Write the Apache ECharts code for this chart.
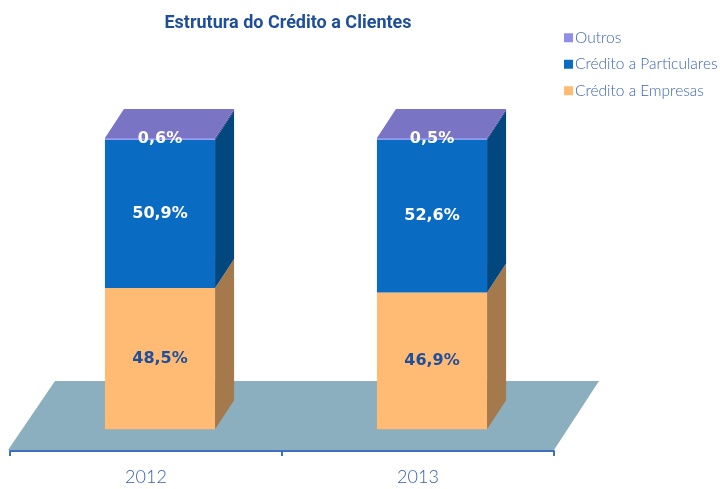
<!DOCTYPE html>
<html>
<head>
<meta charset="utf-8">
<script src="https://cdn.jsdelivr.net/npm/echarts@6/dist/echarts.min.js"></script>
<style>
  html, body { margin: 0; padding: 0; background: #fff; }
  #chart { width: 720px; height: 489px; }
</style>
</head>
<body>
<div id="chart"></div>
<script>
// dados
const categories = ['2012', '2013'];
const empresas = [48.5, 46.9];
const particulares = [50.9, 52.6];
const outros = [0.6, 0.5];

// profundidade 3D (px)
const DX = 19, DY = -29;

const fmt = (v) => v.toFixed(1).replace('.', ',') + '%';

function segData(values, bases) {
  return values.map((v, i) => [i, bases[i], v]);
}

const base1 = empresas.map(() => 0);
const base2 = empresas.slice();
const base3 = empresas.map((v, i) => v + particulares[i]);

function barSeries(name, values, bases, front, side, labelColor, topColor) {
  return {
    name: name,
    type: 'custom',
    itemStyle: { color: front },
    data: segData(values, bases),
    renderItem: function (params, api) {
      const ci = api.value(0), base = api.value(1), val = api.value(2);
      const band = api.size([1, 0])[0];
      const cx = api.coord([ci, 0])[0];
      const x0 = cx - band * 0.151, x1 = cx + band * 0.254;
      const yB = api.coord([ci, base])[1];
      const yT = api.coord([ci, base + val])[1];
      const children = [
        { type: 'rect', shape: { x: x0, y: yT, width: x1 - x0, height: yB - yT }, style: { fill: front } },
        { type: 'polygon', shape: { points: [[x1, yB], [x1, yT], [x1 + DX, yT + DY], [x1 + DX, yB + DY]] }, style: { fill: side } }
      ];
      if (topColor) {
        children.push({ type: 'polygon', shape: { points: [[x0, yT], [x1, yT], [x1 + DX, yT + DY], [x0 + DX, yT + DY]] }, style: { fill: topColor } });
      }
      children.push({
        type: 'text',
        style: {
          x: (x0 + x1) / 2,
          y: topColor ? yT + 1 : (yT + yB) / 2,
          text: fmt(val),
          fill: labelColor,
          font: 'bold 16px "DejaVu Sans"',
          align: 'center',
          verticalAlign: 'middle'
        }
      });
      return { type: 'group', children: children };
    }
  };
}

const floorSeries = {
  name: 'floor',
  type: 'custom',
  silent: true,
  z: 1,
  data: [[0, 0, 0]],
  renderItem: function (params, api) {
    const cs = params.coordSys;
    const yb = cs.y + cs.height - 1;
    const yt = yb - 69;
    const l = cs.x - 2, r = cs.x + cs.width;
    return {
      type: 'polygon',
      shape: { points: [[l, yb], [r, yb], [r + 45, yt], [l + 47, yt]] },
      style: { fill: '#8BAFBE' }
    };
  }
};

const chart = echarts.init(document.getElementById('chart'));
chart.setOption({
  animation: false,
  title: {
    text: 'Estrutura do Crédito a Clientes',
    left: 283,
    textAlign: 'center',
    top: 9,
    textStyle: { color: '#1F4E9A', fontSize: 18, fontWeight: 'bold', fontFamily: 'Roboto' }
  },
  legend: {
    orient: 'vertical',
    left: 559,
    top: 24,
    icon: 'rect',
    itemWidth: 9,
    itemHeight: 9,
    itemGap: 9,
    data: ['Outros', 'Crédito a Particulares', 'Crédito a Empresas'],
    textStyle: { color: '#3B66B4', fontSize: 15.5, fontFamily: 'Lato', fontWeight: 300, padding: [0, 0, 0, -3], lineHeight: 17.5 }
  },
  grid: { left: 10, right: 166, top: 138, bottom: 38 },
  xAxis: {
    type: 'category',
    data: categories,
    z: 5,
    axisLine: { onZero: false, lineStyle: { color: '#3E6FC0', width: 2 } },
    axisTick: { show: true, alignWithLabel: false, interval: 0, length: 5, lineStyle: { color: '#3E6FC0', width: 2 } },
    axisLabel: { color: '#3461AE', fontSize: 18, fontFamily: 'Lato', fontWeight: 300, margin: 17 }
  },
  yAxis: {
    type: 'value',
    min: -7.5,
    max: 100,
    show: false,
    splitLine: { show: false }
  },
  series: [
    floorSeries,
    barSeries('Crédito a Empresas', empresas, base1, '#FFBB73', '#A47A4C', '#1E4F9C', null),
    barSeries('Crédito a Particulares', particulares, base2, '#0A6BC2', '#03477F', '#FFFFFF', null),
    barSeries('Outros', outros, base3, '#8F8FEA', '#3A3A8A', '#FFFFFF', '#7A74C4')
  ]
});
</script>
</body>
</html>
